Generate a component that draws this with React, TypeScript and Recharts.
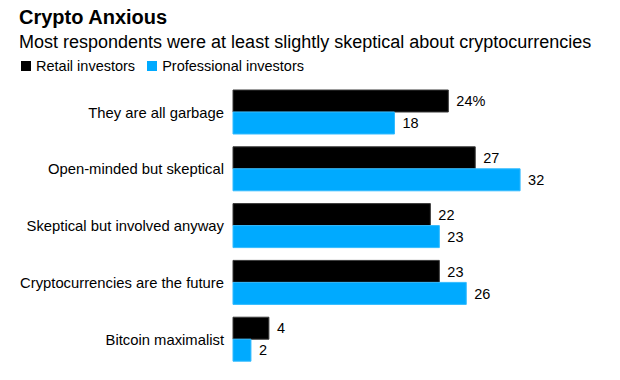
import React from "react";
import { BarChart, Bar, XAxis, YAxis, LabelList } from "recharts";

const categories = [
  "They are all garbage",
  "Open-minded but skeptical",
  "Skeptical but involved anyway",
  "Cryptocurrencies are the future",
  "Bitcoin maximalist",
];
const retail = [24, 27, 22, 23, 4];
const professional = [18, 32, 23, 26, 2];
const retailLabels = ["24%", "27", "22", "23", "4"];
const professionalLabels = ["18", "32", "23", "26", "2"];

const data = categories.map((c, i) => ({
  category: c,
  retail: retail[i],
  professional: professional[i],
  retailLabel: retailLabels[i],
  professionalLabel: professionalLabels[i],
}));

const FONT = '"Liberation Sans", Arial, Helvetica, sans-serif';
const BLACK = "#000000";
const BLUE = "#00AAFF";

export default function App() {
  return (
    <div style={{ position: "absolute", left: 0, top: 0, width: 620, height: 380, fontFamily: FONT, background: "#fff" }}>
      <div style={{ position: "absolute", left: 19, top: 6, fontSize: 20, fontWeight: 700, color: "#000", whiteSpace: "nowrap", lineHeight: "22px" }}>
        Crypto Anxious
      </div>
      <div style={{ position: "absolute", left: 19, top: 32, fontSize: 18, color: "#000", whiteSpace: "nowrap", lineHeight: "20px" }}>
        Most respondents were at least slightly skeptical about cryptocurrencies
      </div>
      <div style={{ position: "absolute", left: 21, top: 58, fontSize: 14.5, color: "#000", whiteSpace: "nowrap", lineHeight: "16px", display: "flex", alignItems: "center" }}>
        <span style={{ display: "inline-block", width: 10, height: 10, background: BLACK, marginRight: 5 }} />
        <span>Retail investors</span>
        <span style={{ display: "inline-block", width: 10, height: 10, background: BLUE, marginLeft: 12, marginRight: 5 }} />
        <span>Professional investors</span>
      </div>
      <div style={{ position: "absolute", left: 0, top: 0 }}>
        <BarChart
          width={620}
          height={380}
          data={data}
          layout="vertical"
          margin={{ top: 84, right: 73, bottom: 12, left: 0 }}
          barGap={0}
        >
          <XAxis type="number" domain={[0, 35]} hide />
          <YAxis
            type="category"
            dataKey="category"
            width={233}
            axisLine={false}
            tickLine={false}
            tickSize={0}
            tickMargin={9}
            tick={{ fill: "#000", fontSize: 14.8, fontFamily: FONT }}
            interval={0}
          />
          <Bar dataKey="retail" fill={BLACK} stroke="#3a3a3a" strokeWidth={1} barSize={22} isAnimationActive={false}>
            <LabelList dataKey="retailLabel" position="right" offset={8} fill="#000" fontSize={14.5} fontFamily={FONT} />
          </Bar>
          <Bar dataKey="professional" fill={BLUE} stroke="#33BBFF" strokeWidth={1} barSize={22} isAnimationActive={false}>
            <LabelList dataKey="professionalLabel" position="right" offset={8} fill="#000" fontSize={14.5} fontFamily={FONT} />
          </Bar>
        </BarChart>
      </div>
    </div>
  );
}
